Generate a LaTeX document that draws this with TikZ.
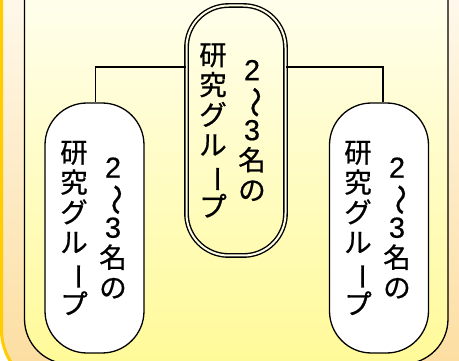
\documentclass[tikz,border=0pt]{standalone}
\usepackage{fontspec}
\usepackage{graphicx}
\newfontfamily\cjk[FakeBold=0.7]{Noto Sans CJK JP}
\newfontfamily\digitfont[FakeBold=0.4]{Liberation Sans}
\definecolor{goldline}{HTML}{FFCC00}
\definecolor{outertop}{HTML}{FFFCF6}
\definecolor{outerbot}{HTML}{FCDC9C}
\definecolor{innertop}{HTML}{FFFFFA}
\definecolor{innerbot}{HTML}{FFFA98}
\definecolor{gapcol}{HTML}{FFFFE6}
\newcommand{\vbar}{\rotatebox[origin=c]{-90}{ー}}
\newcommand{\vwave}{{\fontsize{31}{30}\selectfont\rotatebox[origin=c]{-90}{〜}}}
\newcommand{\dg}[1]{{\digitfont\fontsize{29}{30}\selectfont #1}}
\begin{document}
\begin{tikzpicture}[x=1pt,y=-1pt,
  pill/.style={draw=black, line width=1.3pt, rounded corners=42pt, fill=white, inner sep=0pt},
  dpill/.style={draw=black, line width=1.4pt, double=gapcol, double distance=2pt, rounded corners=42pt, inner sep=0pt},
  col/.style={font=\cjk\fontsize{27.5}{30}\selectfont, align=center, inner sep=0pt},
  link/.style={draw=black, line width=1.2pt}]
\useasboundingbox (0,0) rectangle (459,361);
% background panels
\path[draw=goldline, line width=3pt, rounded corners=60pt, top color=outertop, bottom color=outerbot] (1.5,-60) rectangle (520,390);
\path[draw=black, line width=1.3pt, rounded corners=45pt, top color=innertop, bottom color=innerbot] (24.5,-60) rectangle (448,364);
% pills
\node[dpill, minimum width=99pt, minimum height=250pt] (C) at (236,130.5) {};
\node[pill, minimum width=99pt, minimum height=250pt] (L) at (94.5,228) {};
\node[pill, minimum width=99pt, minimum height=250pt] (R) at (379,228) {};
% connectors
\draw[link] ([yshift=63.5pt]C.west) -| ([xshift=1pt]L.north);
\draw[link] ([yshift=63.5pt]C.east) -| ([xshift=4pt]R.north);
% texts
\node[col] (ca) at (252,130.5) {\dg{2}\\\vwave\\\dg{3}\\名\\の};
\node[col] (cb) at (213,130.5) {研\\究\\グ\\ル\\\vbar\\プ};
\node[col] (la) at (113,228) {\dg{2}\\\vwave\\\dg{3}\\名\\の};
\node[col] (lb) at (74,228) {研\\究\\グ\\ル\\\vbar\\プ};
\node[col] (ra) at (397,228) {\dg{2}\\\vwave\\\dg{3}\\名\\の};
\node[col] (rb) at (358,228) {研\\究\\グ\\ル\\\vbar\\プ};
\end{tikzpicture}
\end{document}
